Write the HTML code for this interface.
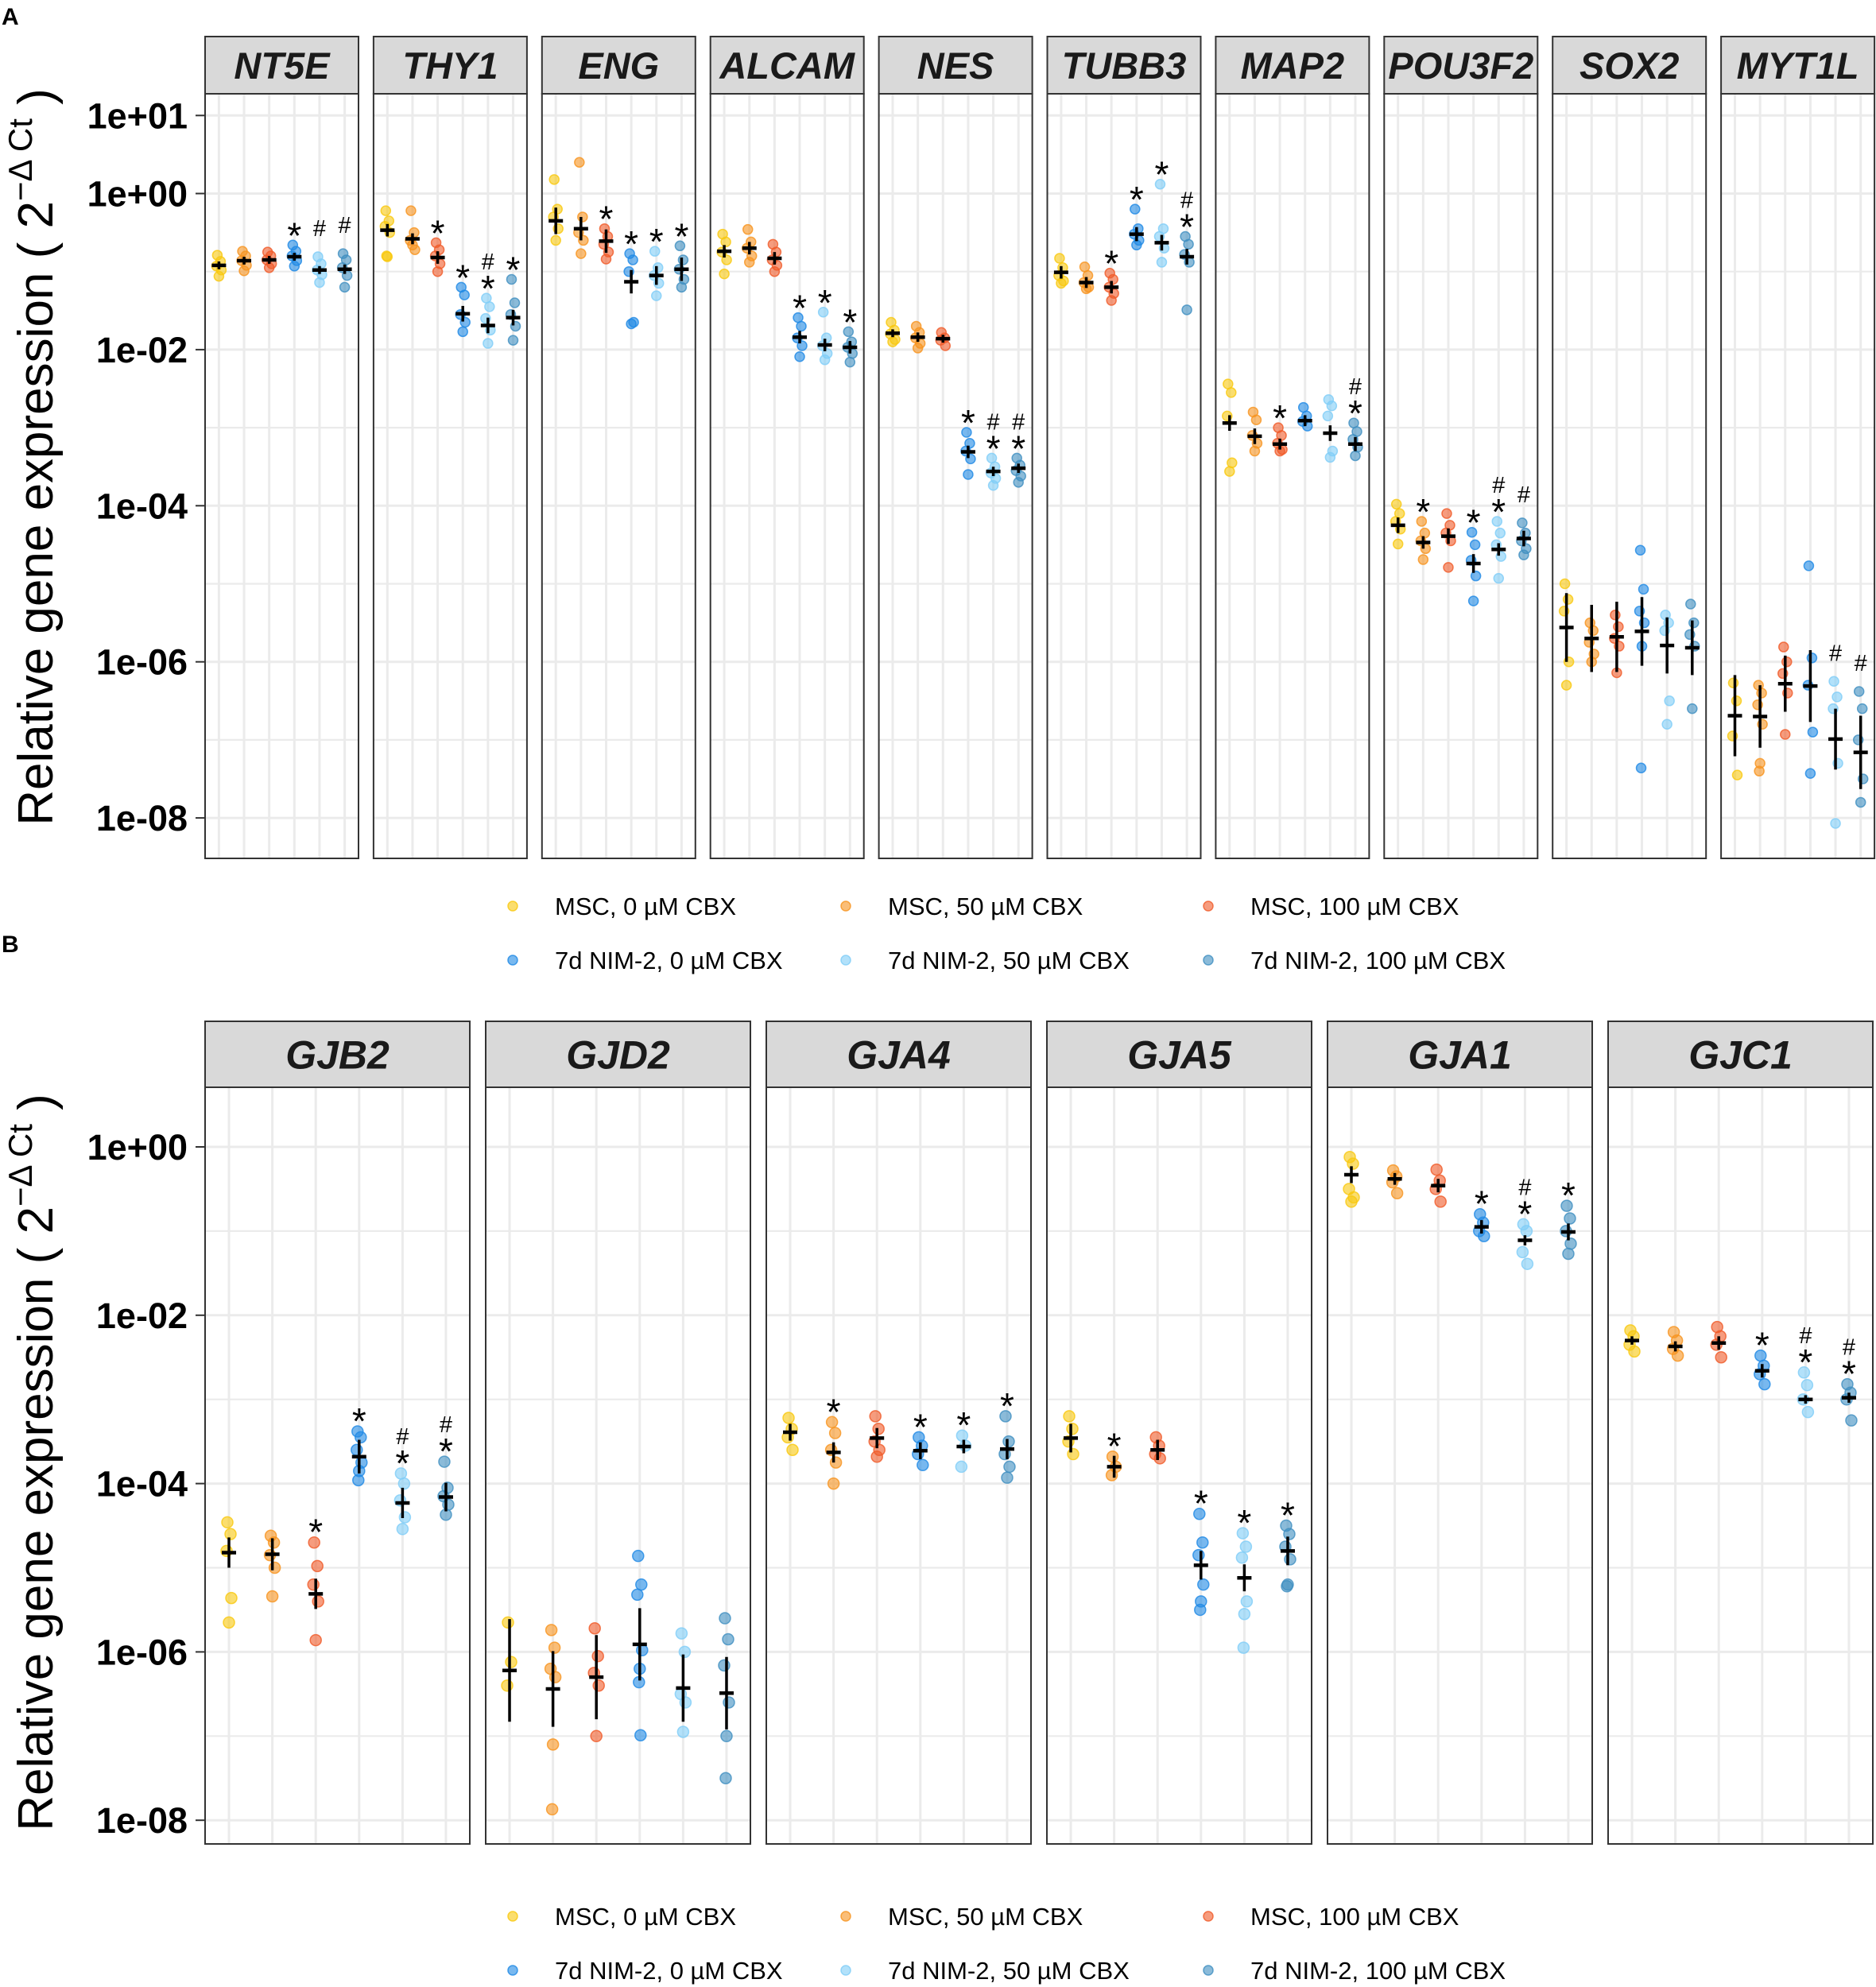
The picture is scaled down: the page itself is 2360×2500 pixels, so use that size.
<!DOCTYPE html>
<html><head><meta charset="utf-8"><title>Relative gene expression</title>
<style>html,body{margin:0;padding:0;background:#fff}svg{display:block}</style></head>
<body>
<svg id="fig" xmlns="http://www.w3.org/2000/svg" width="2360" height="2500" viewBox="0 0 2360 2500" font-family="Liberation Sans, Arial, sans-serif">
<rect x="0" y="0" width="2360" height="2500" fill="#fff"/>
<text x="2" y="31" font-size="30" font-weight="bold">A</text>
<text x="2" y="1198" font-size="30" font-weight="bold">B</text>
<g id="plots"></g>
</svg>
<script>
// ---- data (log10 of relative expression) ----
const groupLabels = ["MSC, 0 \u00b5M CBX","MSC, 50 \u00b5M CBX","MSC, 100 \u00b5M CBX","7d NIM-2, 0 \u00b5M CBX","7d NIM-2, 50 \u00b5M CBX","7d NIM-2, 100 \u00b5M CBX"];
const genesA = ["NT5E","THY1","ENG","ALCAM","NES","TUBB3","MAP2","POU3F2","SOX2","MYT1L"];
const genesB = ["GJB2","GJD2","GJA4","GJA5","GJA1","GJC1"];
const ticksA = [1,0,-2,-4,-6,-8];
const ticksB = [0,-2,-4,-6,-8];
const tickLabelsA = ["1e+01","1e+00","1e-02","1e-04","1e-06","1e-08"];
const tickLabelsB = ["1e+00","1e-02","1e-04","1e-06","1e-08"];

const meansA = [
 [-0.92,-0.86,-0.85,-0.81,-0.98,-0.97],
 [-0.47,-0.58,-0.82,-1.54,-1.69,-1.59],
 [-0.35,-0.45,-0.61,-1.13,-1.05,-0.97],
 [-0.74,-0.70,-0.83,-1.84,-1.94,-1.97],
 [-1.79,-1.84,-1.86,-3.31,-3.56,-3.52],
 [-1.01,-1.14,-1.20,-0.52,-0.63,-0.81],
 [-2.94,-3.11,-3.21,-2.91,-3.07,-3.21],
 [-4.25,-4.47,-4.39,-4.74,-4.56,-4.42],
 [-5.56,-5.70,-5.68,-5.61,-5.79,-5.82],
 [-6.69,-6.70,-6.28,-6.31,-6.99,-7.16]];
const errA = [
 [0.05,0.05,0.05,0.05,0.05,0.06],
 [0.08,0.07,0.08,0.10,0.10,0.10],
 [0.17,0.15,0.15,0.15,0.12,0.15],
 [0.08,0.08,0.08,0.08,0.08,0.08],
 [0.05,0.06,0.05,0.08,0.06,0.06],
 [0.08,0.07,0.08,0.09,0.10,0.10],
 [0.10,0.10,0.07,0.07,0.10,0.09],
 [0.10,0.08,0.10,0.12,0.08,0.10],
 [0.44,0.43,0.45,0.44,0.36,0.35],
 [0.52,0.40,0.36,0.46,0.39,0.47]];
const pointsA = [
 [[-0.79,-0.87,-0.93,-0.98,-1.06],[-0.74,-0.80,-0.86,-0.92,-0.99],[-0.75,-0.80,-0.85,-0.90,-0.95],[-0.66,-0.74,-0.80,-0.86,-0.93],[-0.81,-0.90,-0.98,-1.04,-1.14],[-0.77,-0.85,-0.95,-1.05,-1.20]],
 [[-0.22,-0.35,-0.42,-0.50,-0.81,-0.80],[-0.22,-0.50,-0.60,-0.72,-0.66],[-0.63,-0.72,-0.80,-0.90,-1.00],[-1.20,-1.30,-1.55,-1.65,-1.77],[-1.34,-1.45,-1.60,-1.75,-1.92],[-1.10,-1.40,-1.55,-1.70,-1.88]],
 [[0.18,-0.20,-0.30,-0.45,-0.60],[0.40,-0.30,-0.50,-0.60,-0.77],[-0.45,-0.55,-0.65,-0.75,-0.84],[-0.77,-0.85,-1.00,-1.65,-1.67],[-0.74,-0.95,-1.05,-1.15,-1.31],[-0.67,-0.85,-0.97,-1.10,-1.20]],
 [[-0.52,-0.62,-0.75,-0.85,-1.03],[-0.46,-0.62,-0.70,-0.80,-0.88],[-0.65,-0.75,-0.85,-0.92,-1.00],[-1.59,-1.70,-1.85,-1.95,-2.09],[-1.52,-1.85,-1.95,-2.05,-2.13],[-1.77,-1.90,-1.97,-2.05,-2.16]],
 [[-1.65,-1.75,-1.80,-1.87,-1.90],[-1.70,-1.78,-1.85,-1.92,-1.98],[-1.78,-1.85,-1.88,-1.95],[-3.06,-3.20,-3.30,-3.40,-3.60],[-3.39,-3.50,-3.58,-3.65,-3.74],[-3.39,-3.48,-3.55,-3.62,-3.70]],
 [[-0.83,-0.95,-1.05,-1.12,-1.15],[-0.94,-1.05,-1.14,-1.20,-1.22],[-1.02,-1.10,-1.20,-1.28,-1.37],[-0.20,-0.45,-0.52,-0.60,-0.66],[0.12,-0.45,-0.55,-0.70,-0.88],[-0.55,-0.65,-0.78,-0.88,-1.49]],
 [[-2.44,-2.55,-2.85,-3.45,-3.56],[-2.80,-2.90,-3.10,-3.20,-3.30],[-3.00,-3.10,-3.20,-3.28,-3.30],[-2.74,-2.85,-2.92,-2.98],[-2.64,-2.72,-2.85,-3.30,-3.38],[-2.94,-3.05,-3.15,-3.25,-3.36]],
 [[-3.98,-4.10,-4.20,-4.30,-4.49],[-4.20,-4.35,-4.45,-4.55,-4.69],[-4.10,-4.25,-4.35,-4.45,-4.79],[-4.34,-4.50,-4.70,-4.90,-5.22],[-4.20,-4.35,-4.50,-4.65,-4.93],[-4.22,-4.35,-4.45,-4.55,-4.63]],
 [[-5.00,-5.20,-5.35,-6.00,-6.30],[-5.50,-5.60,-5.75,-5.90,-6.00],[-5.40,-5.55,-5.70,-5.80,-6.14],[-4.57,-5.07,-5.35,-5.50,-5.80,-7.36],[-5.40,-5.50,-5.60,-6.50,-6.80],[-5.26,-5.50,-5.65,-5.80,-6.60]],
 [[-6.27,-6.50,-6.95,-7.45],[-6.30,-6.40,-6.55,-6.80,-7.30,-7.40],[-5.81,-6.00,-6.15,-6.40,-6.93],[-4.77,-5.95,-6.30,-6.90,-7.43],[-6.25,-6.45,-6.60,-7.30,-8.07],[-6.38,-6.60,-7.00,-7.50,-7.80]]];
const annA = [
 ["","","","*","#","#"],["","","*","*","*#","*"],["","","*","*","*","*"],["","","","*","*","*"],["","","","*","*#","*#"],
 ["","","*","*","*","*#"],["","","*","","","*#"],["","*","","*","*#","#"],["","","","","",""],["","","","","#","#"]];

const meansB = [
 [-4.82,-4.84,-5.31,-3.68,-4.23,-4.16],
 [-6.22,-6.44,-6.30,-5.91,-6.43,-6.49],
 [-3.39,-3.63,-3.46,-3.61,-3.56,-3.59],
 [-3.46,-3.80,-3.60,-4.97,-5.12,-4.80],
 [-0.33,-0.38,-0.46,-0.95,-1.11,-1.01],
 [-2.30,-2.37,-2.33,-2.66,-3.00,-2.98]];
const errB = [
 [0.18,0.19,0.18,0.20,0.18,0.17],
 [0.61,0.45,0.50,0.43,0.40,0.43],
 [0.10,0.12,0.12,0.10,0.08,0.12],
 [0.17,0.13,0.12,0.17,0.16,0.17],
 [0.10,0.07,0.08,0.08,0.06,0.10],
 [0.05,0.06,0.08,0.08,0.05,0.06]];
const pointsB = [
 [[-4.46,-4.60,-4.80,-5.36,-5.65],[-4.62,-4.70,-4.85,-5.00,-5.34],[-4.70,-4.98,-5.20,-5.40,-5.86],[-3.38,-3.45,-3.60,-3.75,-3.85,-3.96],[-3.88,-4.00,-4.20,-4.40,-4.54],[-3.74,-4.05,-4.15,-4.25,-4.37]],
 [[-5.65,-6.12,-6.40],[-5.74,-5.95,-6.20,-6.30,-7.10,-7.87],[-5.72,-6.05,-6.25,-6.40,-7.00],[-4.86,-5.20,-5.32,-5.98,-6.20,-6.36,-6.99],[-5.78,-6.00,-6.50,-6.60,-6.95],[-5.60,-5.85,-6.16,-6.60,-7.00,-7.50]],
 [[-3.22,-3.35,-3.45,-3.60],[-3.27,-3.40,-3.60,-3.75,-4.00],[-3.20,-3.35,-3.50,-3.60,-3.68],[-3.45,-3.55,-3.65,-3.78],[-3.43,-3.55,-3.80],[-3.20,-3.50,-3.65,-3.80,-3.93]],
 [[-3.20,-3.35,-3.50,-3.65],[-3.68,-3.80,-3.90],[-3.45,-3.55,-3.65,-3.70],[-4.36,-4.70,-4.85,-5.20,-5.40,-5.50],[-4.59,-4.75,-4.88,-5.40,-5.55,-5.95],[-4.50,-4.60,-4.75,-4.90,-5.20,-5.22]],
 [[-0.12,-0.20,-0.50,-0.60,-0.65],[-0.28,-0.35,-0.42,-0.55],[-0.27,-0.40,-0.50,-0.65],[-0.80,-0.90,-1.00,-1.06],[-0.92,-1.00,-1.25,-1.39],[-0.70,-0.85,-1.00,-1.15,-1.27]],
 [[-2.18,-2.25,-2.35,-2.43],[-2.20,-2.30,-2.40,-2.48],[-2.14,-2.25,-2.35,-2.50],[-2.48,-2.60,-2.70,-2.82],[-2.68,-2.83,-3.00,-3.15],[-2.82,-2.92,-3.00,-3.25]]];
const annB = [["","","*","*","*#","*#"],["","","","","",""],["","*","","*","*","*"],["","*","","*","*","*"],["","","","*","*#","*"],["","","","*","*#","*#"]];

// ---- styles ----
const colors = ["#F9C80E","#F7931E","#F05A28","#1E88E5","#7FCDF7","#3E8EC0"];
const jitter = [-2,2,-3,3,0,-1,1];
const NS = "http://www.w3.org/2000/svg";
const root = document.getElementById('plots');
function mk(tag, attrs, parent){const e=document.createElementNS(NS,tag);for(const k in attrs)e.setAttribute(k,attrs[k]);(parent||root).appendChild(e);return e;}

function drawFacet(cfg){
  const {genes, means, errs, points, anns, ticks, tickLabels, left0, step, pw, stripTop, stripBot, plotBot, yZero, dec, stripFont, r, legendY, titleCy, prefix} = cfg;
  const y = l => yZero - dec*l;
  ticks.forEach((t,i)=>{
    const tl=mk('line',{x1:left0-12,x2:left0,y1:y(t),y2:y(t),stroke:'#333','stroke-width':2});
    
    
    const tx=mk('text',{x:left0-22,y:y(t)+16,'text-anchor':'end','font-size':45,'font-weight':'bold',fill:'#000'});
    tx.textContent=tickLabels[i];
    
    
  });
  const tt=mk('text',{x:0,y:0,transform:`translate(66,${titleCy}) rotate(-90)`,'text-anchor':'middle','font-size':62,fill:'#000'});
  
  
  tt.innerHTML='Relative gene expression ( 2<tspan font-size="42" dy="-26">\u2212\u0394 Ct</tspan><tspan dy="26"> )</tspan>';
  const pad = 0.55;
  const cat = (pw)/(5+2*pad);
  genes.forEach((g,gi)=>{
    const L = left0 + gi*step;
    const grp=mk('g',{});
    
    
    const strip=mk('rect',{x:L,y:stripTop,width:pw,height:stripBot-stripTop,fill:'#d9d9d9',stroke:'#333','stroke-width':2},grp);
    
    
    const st=mk('text',{x:L+pw/2,y:(stripTop+stripBot)/2+stripFont*0.36,'text-anchor':'middle','font-size':stripFont,'font-weight':'bold','font-style':'italic',fill:'#1a1a1a'},grp);
    st.textContent=g;
    
    
    mk('rect',{x:L,y:stripBot,width:pw,height:plotBot-stripBot,fill:'#fff'},grp);
    const lo = Math.ceil((yZero-plotBot)/dec), hi=Math.floor((yZero-stripBot)/dec);
    for(let l=lo;l<=hi;l++){
      const gl=mk('line',{x1:L,x2:L+pw,y1:y(l),y2:y(l),stroke:'#ebebeb','stroke-width':ticks.includes(l)?3:2.2},grp);
      
      
    }
    for(let k=0;k<6;k++){
      const cx=L+cat*(pad+k);
      const vl=mk('line',{x1:cx,x2:cx,y1:stripBot,y2:plotBot,stroke:'#ebebeb','stroke-width':3},grp);
      
      
    }
    for(let k=0;k<6;k++){
      const cx=L+cat*(pad+k);
      const pts=points[gi][k];
      let top=Infinity;
      pts.forEach((v,pi)=>{
        const py=y(v);
        top=Math.min(top,py-r);
        const c=mk('circle',{cx:cx+jitter[pi%jitter.length],cy:py,r:r,fill:colors[k],'fill-opacity':0.6,stroke:colors[k],'stroke-opacity':0.8,'stroke-width':1.5},grp);
        
        
      });
      const m=means[gi][k], e=errs[gi][k];
      top=Math.min(top,y(m+e));
      const eb=mk('line',{x1:cx,x2:cx,y1:y(m+e),y2:y(m-e),stroke:'#000','stroke-width':3.5},grp);
      
      
      const mb=mk('line',{x1:cx-9,x2:cx+9,y1:y(m),y2:y(m),stroke:'#000','stroke-width':4.5},grp);
      
      
      const a=anns[gi][k];
      if(a.includes('*')){
        const sc=top-14;
        const s=mk('text',{x:cx,y:sc+24,'text-anchor':'middle','font-size':46,fill:'#000'},grp);
        s.textContent='*';
        
        
        if(a.includes('#')){
          const h=mk('text',{x:cx,y:sc-26+10,'text-anchor':'middle','font-size':29,fill:'#000'},grp);
          h.textContent='#';
          
          
        }
      } else if(a.includes('#')){
        const h=mk('text',{x:cx,y:top-30+10,'text-anchor':'middle','font-size':29,fill:'#000'},grp);
        h.textContent='#';
        
        
      }
    }
    const bd=mk('rect',{x:L,y:stripBot,width:pw,height:plotBot-stripBot,fill:'none',stroke:'#333','stroke-width':2},grp);
    
    
  });
  const lx=[645,1064,1520];
  const lg=mk('g',{});
  
  
  groupLabels.forEach((lab,i)=>{
    const row=Math.floor(i/3), col=i%3;
    const yy=legendY+row*68;
    const c=mk('circle',{cx:lx[col],cy:yy,r:6,fill:colors[i],'fill-opacity':0.6,stroke:colors[i],'stroke-opacity':0.8,'stroke-width':1.5},lg);
    
    
    const t=mk('text',{x:lx[col]+53,y:yy+11,'font-size':31,fill:'#000'},lg);
    t.textContent=lab;
    
    
  });
}

drawFacet({prefix:'panel-a',genes:genesA,means:meansA,errs:errA,points:pointsA,anns:annA,ticks:ticksA,tickLabels:tickLabelsA,
  left0:258,step:211.9,pw:193,stripTop:46,stripBot:118,plotBot:1080,yZero:243.5,dec:98.2,stripFont:47,r:6,legendY:1140,titleCy:575});
drawFacet({prefix:'panel-b',genes:genesB,means:meansB,errs:errB,points:pointsB,anns:annB,ticks:ticksB,tickLabels:tickLabelsB,
  left0:258,step:353,pw:333,stripTop:1285,stripBot:1368,plotBot:2320,yZero:1443,dec:105.9,stripFont:50,r:7,legendY:2411,titleCy:1840});
</script>
</body></html>
